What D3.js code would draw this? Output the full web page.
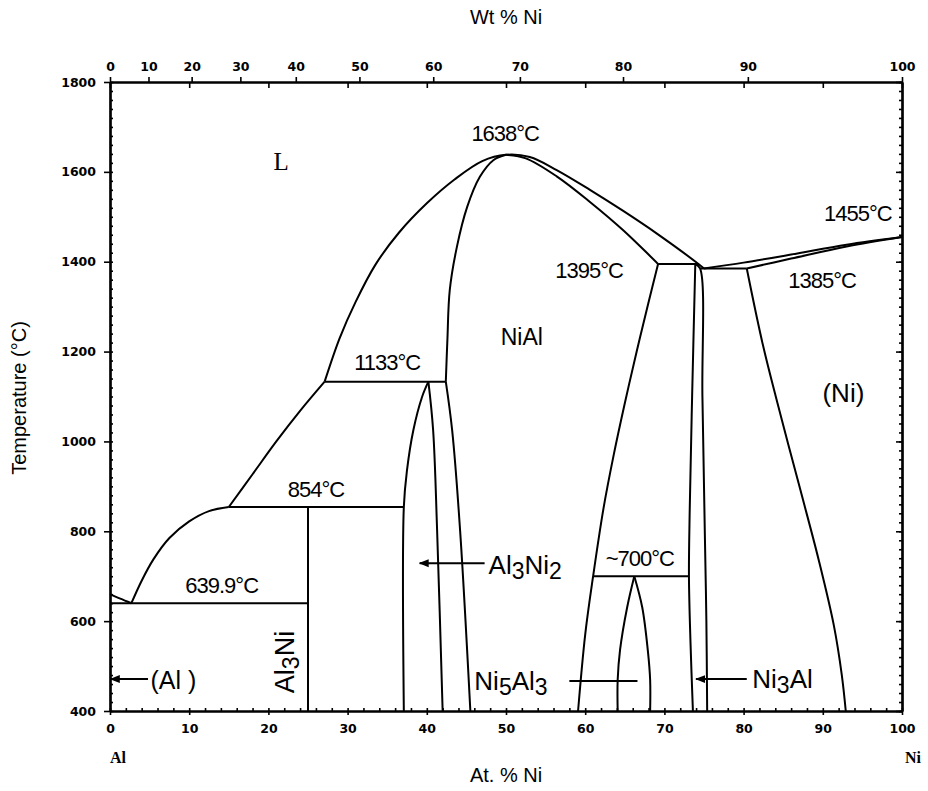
<!DOCTYPE html>
<html>
<head>
<meta charset="utf-8">
<script src="https://cdn.jsdelivr.net/npm/d3@7"></script>
<style>
    body { margin: 0; background: #fff; }
    .axis path, .axis line { stroke: #000; stroke-width: 1.6; }
    .axis text { font-family: "DejaVu Sans", sans-serif; font-weight: bold; font-size: 12.5px; fill: #000; }
    .phase { fill: none; stroke: #000; stroke-width: 2; }
    .lbl { font-family: "Liberation Sans", Arial, sans-serif; fill: #000; }
</style>
</head>
<body>
<div id="chart"></div>
<script>
// tick labels
const atTicks = d3.range(0, 101, 10);
const wtTicks = d3.range(0, 101, 10);
const tempTicks = d3.range(400, 1801, 200);

// phase boundaries, [at.% Ni, temperature °C]
const alLiquidus = [[0, 660], [1.3, 650], [2.7, 639.9]];
const liquidusLow = [[2.7, 639.9], [4.0, 690], [5.5, 738], [7.5, 785], [10.0, 822], [12.5, 845], [15.0, 854]];
const liquidusMid = [[15.0, 854], [18.0, 927], [21.0, 1000], [24.0, 1068], [27.1, 1133]];
const liquidusNiAl = [[27.1, 1133], [29.0, 1230], [31.0, 1310], [33.5, 1393], [36.5, 1465], [40.0, 1530],
    [43.5, 1583], [47.0, 1624], [50, 1638], [53, 1633], [56.4, 1604], [60.6, 1560], [64.8, 1513],
    [69.1, 1462], [74.3, 1395], [75.0, 1385]];
const niAlSolidusLeft = [[50, 1638], [48.4, 1626], [46.7, 1589], [45.1, 1522], [43.8, 1433], [42.9, 1337], [42.6, 1226], [42.4, 1133]];
const niAlSolvusLeft = [[42.4, 1133], [43.2, 1025], [44.2, 803], [45.5, 400]];
const niAlSolidusRight = [[50, 1638], [52.5, 1630], [56.4, 1590], [60.6, 1533], [64.8, 1470], [69.2, 1395]];
const niAlSolvusRight = [[69.2, 1395], [68.0, 1310], [66.5, 1200], [65.0, 1085], [63.6, 970], [62.3, 850], [61.0, 700], [60.0, 570], [59.1, 400]];
const al3Ni2Left = [[37.1, 400], [37.1, 854], [37.5, 936], [38.3, 1025], [39.4, 1099], [40.2, 1133]];
const al3Ni2Right = [[40.2, 1133], [40.8, 1025], [41.3, 803], [42.0, 400]];
const ni5Al3Left = [[64.1, 400], [64.1, 469], [64.4, 536], [65.3, 631], [66.2, 700]];
const ni5Al3Right = [[66.2, 700], [67.2, 631], [67.9, 536], [68.2, 469], [68.2, 400]];
const ni3AlLeft = [[73.9, 1395], [73.5, 1100], [73.2, 850], [73.1, 700], [73.3, 550], [73.6, 400]];
const ni3AlRight = [[73.9, 1395], [74.5, 1385], [74.8, 1100], [75.1, 800], [75.3, 600], [75.4, 400]];
const niLiquidus = [[75.0, 1385], [80, 1398], [86, 1416], [93, 1438], [100, 1455]];
const niSolidus = [[80.4, 1385], [86, 1407], [93, 1434], [100, 1455]];
const niSolvus = [[80.4, 1385], [82.5, 1210], [84.8, 1050], [87.2, 890], [89.5, 735], [91.4, 590], [92.4, 480], [92.9, 400]];

// horizontal invariant lines: [temperature, from at.%, to at.%]
const isotherms = [[639.9, 0, 25.0], [854, 15.0, 37.1], [1133, 27.1, 42.4], [1395, 69.2, 74.3], [1385, 74.5, 80.4], [700, 61.0, 73.1]];
// Al3Ni line compound
const al3NiLine = [[25.0, 400], [25.0, 854]];

const massNi = 58.69, massAl = 26.98;
function wtToAt(w) {
    let n = w / massNi, a = (100 - w) / massAl;
    return 100 * n / (n + a);
}

class PhaseDiagram {
    constructor(parentElement) {
        this.parentElement = parentElement;
        this.initVis();
    }

    initVis() {
        let vis = this;
        vis.width = 928;
        vis.height = 791;

        vis.svg = d3.select("#" + vis.parentElement).append("svg")
            .attr("width", vis.width)
            .attr("height", vis.height);

        vis.svg.append("defs").append("marker")
            .attr("id", "head")
            .attr("viewBox", "0 0 10 10")
            .attr("refX", 9).attr("refY", 5)
            .attr("markerWidth", 5).attr("markerHeight", 5)
            .attr("markerUnits", "strokeWidth")
            .attr("orient", "auto")
            .append("path")
            .attr("d", "M0,1 L10,5 L0,9 z")
            .attr("fill", "#000");

        vis.x = d3.scaleLinear().domain([0, 100]).range([110, 902]);
        vis.y = d3.scaleLinear().domain([400, 1800]).range([711, 82]);

        // axes
        vis.svg.append("g").attr("class", "axis")
            .attr("transform", "translate(0,711)")
            .call(d3.axisBottom(vis.x).tickValues(atTicks).tickSize(4).tickSizeOuter(0).tickPadding(9));
        vis.svg.append("g").attr("class", "axis")
            .attr("transform", "translate(0,711)")
            .call(d3.axisBottom(vis.x).tickValues(d3.range(0, 101, 2)).tickSize(-3).tickSizeOuter(0).tickFormat(""));

        vis.svg.append("g").attr("class", "axis")
            .attr("transform", "translate(0,82)")
            .call(d3.axisTop(vis.x).tickValues(atTicks).tickSize(-6).tickSizeOuter(0).tickFormat(""));
        vis.svg.append("g").attr("class", "axis")
            .attr("transform", "translate(0,82)")
            .call(d3.axisTop(vis.x).tickValues(wtTicks.map(wtToAt)).tickSize(5).tickSizeOuter(0).tickPadding(6)
                .tickFormat((d, i) => wtTicks[i]));

        vis.svg.append("g").attr("class", "axis")
            .attr("transform", "translate(110,0)")
            .call(d3.axisLeft(vis.y).tickValues(tempTicks).tickSize(6).tickSizeOuter(0).tickPadding(8)
                .tickFormat(d3.format("d")));
        vis.svg.append("g").attr("class", "axis")
            .attr("transform", "translate(110,0)")
            .call(d3.axisLeft(vis.y).tickValues(d3.range(400, 1801, 20)).tickSize(-3).tickSizeOuter(0).tickFormat(""));

        vis.svg.append("g").attr("class", "axis")
            .attr("transform", "translate(902,0)")
            .call(d3.axisRight(vis.y).tickValues(tempTicks).tickSize(-6).tickSizeOuter(0).tickFormat(""));
        vis.svg.append("g").attr("class", "axis")
            .attr("transform", "translate(902,0)")
            .call(d3.axisRight(vis.y).tickValues(d3.range(400, 1801, 20)).tickSize(-3).tickSizeOuter(0).tickFormat(""));

        vis.svg.selectAll(".axis path.domain").style("stroke-width", 2.2);

        // phase boundaries
        vis.curve = d3.line()
            .curve(d3.curveCatmullRom.alpha(0.5))
            .x(d => vis.x(d[0]))
            .y(d => vis.y(d[1]));

        let boundaries = [alLiquidus, liquidusLow, liquidusMid, liquidusNiAl, niAlSolidusLeft, niAlSolvusLeft,
            niAlSolidusRight, niAlSolvusRight, al3Ni2Left, al3Ni2Right, ni5Al3Left, ni5Al3Right,
            ni3AlLeft, ni3AlRight, niLiquidus, niSolidus, niSolvus, al3NiLine];

        vis.svg.append("g").selectAll("path")
            .data(boundaries)
            .enter().append("path")
            .attr("class", "phase")
            .attr("d", vis.curve);

        vis.svg.append("g").selectAll("line")
            .data(isotherms)
            .enter().append("line")
            .attr("class", "phase")
            .attr("x1", d => vis.x(d[1]))
            .attr("x2", d => vis.x(d[2]))
            .attr("y1", d => vis.y(d[0]))
            .attr("y2", d => vis.y(d[0]));

        // pointer lines
        let pointers = [
            {from: [47.3, 729], to: [39.1, 729], head: true},
            {from: [4.8, 471], to: [0.1, 471], head: true},
            {from: [58.0, 467], to: [66.6, 467], head: false},
            {from: [80.4, 471], to: [74.0, 471], head: true}
        ];
        vis.svg.append("g").selectAll("line")
            .data(pointers)
            .enter().append("line")
            .attr("stroke", "#000")
            .attr("stroke-width", 2)
            .attr("x1", d => vis.x(d.from[0]))
            .attr("y1", d => vis.y(d.from[1]))
            .attr("x2", d => vis.x(d.to[0]))
            .attr("y2", d => vis.y(d.to[1]))
            .attr("marker-end", d => d.head ? "url(#head)" : null);

        // temperature annotations
        let notes = [
            {text: "1638°C", a: 49.9, t: 1686, anchor: "middle"},
            {text: "1395°C", a: 60.5, t: 1381, anchor: "middle"},
            {text: "1455°C", a: 98.7, t: 1508, anchor: "end"},
            {text: "1385°C", a: 89.9, t: 1359, anchor: "middle"},
            {text: "1133°C", a: 35.0, t: 1175, anchor: "middle"},
            {text: "854°C", a: 26.0, t: 892, anchor: "middle"},
            {text: "~700°C", a: 66.9, t: 740, anchor: "middle"},
            {text: "639.9°C", a: 14.1, t: 680, anchor: "middle"}
        ];
        vis.svg.append("g").selectAll("text")
            .data(notes)
            .enter().append("text")
            .attr("class", "lbl")
            .attr("x", d => vis.x(d.a))
            .attr("y", d => vis.y(d.t))
            .attr("dominant-baseline", "central")
            .attr("text-anchor", d => d.anchor)
            .style("font-size", "22px")
            .style("letter-spacing", "-1px")
            .text(d => d.text);

        // phase names
        vis.svg.append("text")
            .attr("x", vis.x(21.6)).attr("y", vis.y(1622))
            .attr("dominant-baseline", "central").attr("text-anchor", "middle")
            .style("font-family", "'Liberation Serif', 'Times New Roman', serif")
            .style("font-size", "25px")
            .text("L");

        vis.addLabel("NiAl", 52.0, 1232, "middle", 23);
        vis.addLabel("(Ni)", 92.6, 1108, "middle", 26);
        vis.addLabel("(Al )", 5.1, 469, "start", 25);

        vis.addSubLabel([["Al", false], ["3", true], ["Ni", false], ["2", true]], 47.8, 725);
        vis.addSubLabel([["Ni", false], ["5", true], ["Al", false], ["3", true]], 46.0, 467);
        vis.addSubLabel([["Ni", false], ["3", true], ["Al", false]], 81.1, 471);

        // rotated Al3Ni
        let rot = vis.svg.append("text")
            .attr("class", "lbl")
            .attr("transform", `translate(${vis.x(22.1)},${vis.y(509)}) rotate(-90)`)
            .attr("text-anchor", "middle")
            .attr("dominant-baseline", "central")
            .style("font-size", "27px");
        rot.append("tspan").text("Al");
        rot.append("tspan").attr("dy", 6).style("font-size", "23px").text("3");
        rot.append("tspan").attr("dy", -6).text("Ni");

        // axis titles
        vis.svg.append("text").attr("class", "lbl")
            .attr("x", 506).attr("y", 17).attr("text-anchor", "middle").attr("dominant-baseline", "central")
            .style("font-size", "20px").text("Wt % Ni");
        vis.svg.append("text").attr("class", "lbl")
            .attr("x", 506).attr("y", 775).attr("text-anchor", "middle").attr("dominant-baseline", "central")
            .style("font-size", "20px").text("At. % Ni");
        vis.svg.append("text").attr("class", "lbl")
            .attr("transform", "translate(19,398) rotate(-90)")
            .attr("text-anchor", "middle").attr("dominant-baseline", "central")
            .style("font-size", "20px").text("Temperature (°C)");

        vis.svg.append("text")
            .attr("x", vis.x(0) + 8).attr("y", 757).attr("text-anchor", "middle").attr("dominant-baseline", "central")
            .style("font-family", "'Liberation Serif', serif").style("font-weight", "bold").style("font-size", "16px")
            .text("Al");
        vis.svg.append("text")
            .attr("x", vis.x(100) + 11).attr("y", 757).attr("text-anchor", "middle").attr("dominant-baseline", "central")
            .style("font-family", "'Liberation Serif', serif").style("font-weight", "bold").style("font-size", "16px")
            .text("Ni");
    }

    addLabel(text, a, t, anchor, size) {
        let vis = this;
        vis.svg.append("text")
            .attr("class", "lbl")
            .attr("x", vis.x(a)).attr("y", vis.y(t))
            .attr("dominant-baseline", "central")
            .attr("text-anchor", anchor)
            .style("font-size", size + "px")
            .text(text);
    }

    addSubLabel(parts, a, t) {
        let vis = this;
        let txt = vis.svg.append("text")
            .attr("class", "lbl")
            .attr("x", vis.x(a)).attr("y", vis.y(t))
            .attr("dominant-baseline", "central")
            .style("font-size", "26px");
        let low = false;
        parts.forEach(p => {
            let dy = 0;
            if (p[1] && !low) { dy = 6; low = true; }
            else if (!p[1] && low) { dy = -6; low = false; }
            txt.append("tspan")
                .attr("dy", dy)
                .style("font-size", p[1] ? "23px" : "26px")
                .text(p[0]);
        });
    }
}

new PhaseDiagram("chart");
</script>
</body>
</html>
